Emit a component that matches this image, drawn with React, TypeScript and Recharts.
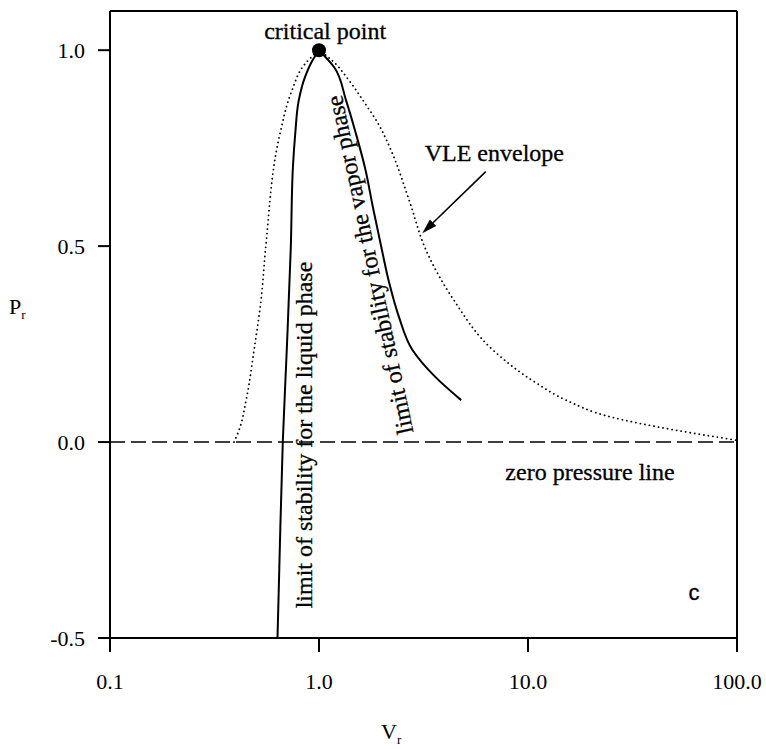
import React from "react";
import {
  ComposedChart, Line, XAxis, YAxis, ReferenceLine, ReferenceDot,
} from "recharts";

// reduced volume (v) vs reduced pressure (p).
// each branch is listed from low to high pressure so it can be drawn with monotoneY
const vleLiquid = [
  { v: 0.392, p: 0.0 }, { v: 0.414, p: 0.03 }, { v: 0.448, p: 0.107 },
  { v: 0.489, p: 0.235 }, { v: 0.528, p: 0.362 }, { v: 0.556, p: 0.497 },
  { v: 0.651, p: 0.788 }, { v: 0.743, p: 0.898 }, { v: 0.848, p: 0.962 },
  { v: 1.0, p: 1.0 },
];

const vleVapor = [
  { v: 98.6, p: 0.005 }, { v: 50.0, p: 0.031 }, { v: 24.9, p: 0.064 },
  { v: 15.2, p: 0.107 }, { v: 11.0, p: 0.15 }, { v: 6.79, p: 0.235 },
  { v: 4.42, p: 0.362 }, { v: 3.25, p: 0.49 }, { v: 2.7, p: 0.617 },
  { v: 2.21, p: 0.745 }, { v: 1.936, p: 0.809 }, { v: 1.623, p: 0.872 },
  { v: 1.391, p: 0.923 }, { v: 1.154, p: 0.974 }, { v: 1.0, p: 1.0 },
];

const spinodalLiquid = [
  { v: 0.633, p: -0.5 }, { v: 0.646, p: -0.319 }, { v: 0.671, p: 0.0 },
  { v: 0.701, p: 0.235 }, { v: 0.733, p: 0.497 }, { v: 0.75, p: 0.7 },
  { v: 0.77, p: 0.788 }, { v: 0.8, p: 0.872 }, { v: 0.855, p: 0.93 },
  { v: 0.926, p: 0.972 }, { v: 1.0, p: 1.0 },
];

const spinodalVapor = [
  { v: 4.79, p: 0.107 }, { v: 3.59, p: 0.167 }, { v: 2.8, p: 0.235 },
  { v: 2.41, p: 0.32 }, { v: 2.17, p: 0.405 }, { v: 2.0, p: 0.49 },
  { v: 1.81, p: 0.6 }, { v: 1.66, p: 0.7 }, { v: 1.5, p: 0.788 },
  { v: 1.347, p: 0.872 }, { v: 1.18, p: 0.957 }, { v: 1.0, p: 1.0 },
];

const criticalPoint = { v: 1.0, p: 1.0 };

const xTicks = [0.1, 1, 10, 100];
const xTickLabels = ["0.1", "1.0", "10.0", "100.0"];
const yTicks = [-0.5, 0, 0.5, 1.0];
const yTickLabels = ["-0.5", "0.0", "0.5", "1.0"];

const serif = "'Liberation Serif', 'Times New Roman', Times, serif";

function ArrowShape(props: any) {
  const { x1, y1, x2, y2 } = props;
  const ang = Math.atan2(y2 - y1, x2 - x1);
  const len = 15;
  const half = 4.5;
  const bx = x2 - len * Math.cos(ang);
  const by = y2 - len * Math.sin(ang);
  const px = -Math.sin(ang) * half;
  const py = Math.cos(ang) * half;
  return (
    <g>
      <line x1={x1} y1={y1} x2={bx} y2={by} stroke="#000" strokeWidth={1.6} />
      <polygon points={`${x2},${y2} ${bx + px},${by + py} ${bx - px},${by - py}`} fill="#000" />
    </g>
  );
}

function note(key: string, v: number, p: number, text: string, opts: any = {}) {
  const { angle = 0, anchor = "middle", size = 24, family = serif } = opts;
  return (
    <ReferenceDot
      key={key}
      x={v}
      y={p}
      r={0}
      fill="none"
      stroke="none"
      ifOverflow="visible"
      label={{
        content: (lp: any) => {
          const vb = lp.viewBox || {};
          const x = (vb.x ?? 0) + (vb.width ?? 0) / 2;
          const y = (vb.y ?? 0) + (vb.height ?? 0) / 2;
          return (
            <text
              x={x}
              y={y}
              textAnchor={anchor}
              dominantBaseline="central"
              fontFamily={family}
              fontSize={size}
              fill="#000"
              stroke="#000"
              strokeWidth={0.3}
              transform={angle ? `rotate(${angle} ${x} ${y})` : undefined}
            >
              {text}
            </text>
          );
        },
      }}
    />
  );
}

const lineCommon = {
  dataKey: "p",
  type: "monotoneY" as const,
  stroke: "#000",
  dot: false,
  activeDot: false,
  isAnimationActive: false,
};

export default function App() {
  return (
    <div style={{ position: "relative", width: 766, height: 749, background: "#fff" }}>
      <style>{"body{margin:0;background:#fff}"}</style>
      <ComposedChart width={766} height={749} margin={{ top: 11, right: 29, bottom: 51, left: 0 }}>
        <XAxis
          dataKey="v"
          type="number"
          scale="log"
          domain={[0.1, 100]}
          ticks={xTicks}
          allowDataOverflow
          height={60}
          tickSize={14}
          tickMargin={21}
          stroke="#000"
          strokeWidth={2}
          tick={{ fontSize: 22, fontFamily: serif, fill: "#000" }}
          tickFormatter={(v: number) => xTickLabels[xTicks.indexOf(v)] ?? String(v)}
        />
        <YAxis
          dataKey="p"
          type="number"
          domain={[-0.5, 1.1]}
          ticks={yTicks}
          allowDataOverflow
          width={110}
          tickSize={12}
          tickMargin={13}
          stroke="#000"
          strokeWidth={2}
          tick={{ fontSize: 22, fontFamily: serif, fill: "#000" }}
          tickFormatter={(v: number) => yTickLabels[yTicks.indexOf(v)] ?? String(v)}
        />
        <ReferenceLine y={1.1} stroke="#000" strokeWidth={2} />
        <ReferenceLine x={100} stroke="#000" strokeWidth={2} />
        <ReferenceLine y={0} stroke="#000" strokeWidth={1.6} strokeDasharray="15 6" />

        <Line {...lineCommon} data={vleLiquid} strokeWidth={1.8} strokeDasharray="0.1 4.5" strokeLinecap="round" />
        <Line {...lineCommon} data={vleVapor} strokeWidth={1.8} strokeDasharray="0.1 4.5" strokeLinecap="round" />
        <Line {...lineCommon} data={spinodalLiquid} strokeWidth={2} />
        <Line {...lineCommon} data={spinodalVapor} strokeWidth={2} />
        <ReferenceDot x={criticalPoint.v} y={criticalPoint.p} r={7} fill="#000" stroke="none" />

        <ReferenceLine
          segment={[{ x: 6.28, y: 0.69 }, { x: 3.12, y: 0.533 }]}
          stroke="#000"
          shape={ArrowShape}
        />

        {note("cp", 1.07, 1.05, "critical point")}
        {note("vle", 6.9, 0.737, "VLE envelope")}
        {note("zero", 19.8, -0.077, "zero pressure line")}
        {note("c", 62.3, -0.385, "c", { size: 22, family: "'Liberation Sans', Arial, sans-serif" })}
        {note("liq", 0.848, 0.018, "limit of stability for the liquid phase", { angle: -90 })}
        {note("vap", 1.75, 0.452, "limit of stability for the vapor phase", { angle: -102 })}
      </ComposedChart>

      <div style={{ position: "absolute", left: 9, top: 296, fontFamily: serif, fontSize: 22, lineHeight: "22px" }}>
        P<sub style={{ fontSize: 13, verticalAlign: "-5px" }}>r</sub>
      </div>
      <div style={{ position: "absolute", left: 381, top: 721, fontFamily: serif, fontSize: 22, lineHeight: "22px" }}>
        V<sub style={{ fontSize: 13, verticalAlign: "-5px" }}>r</sub>
      </div>
    </div>
  );
}
